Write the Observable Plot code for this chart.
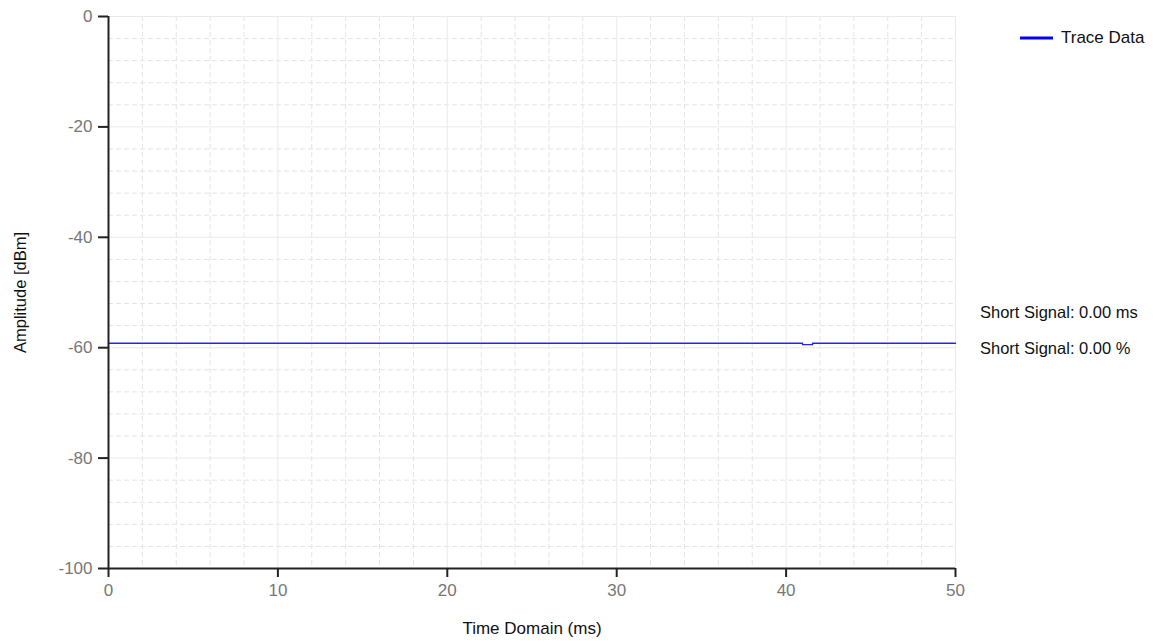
<!DOCTYPE html>
<html>
<head>
<meta charset="utf-8">
<script src="https://cdn.jsdelivr.net/npm/d3@7"></script>
<script src="https://cdn.jsdelivr.net/npm/@observablehq/plot@0.6"></script>
<style>
  html, body { margin: 0; padding: 0; background: #fff; }
  #wrap { position: relative; width: 1153px; height: 643px; font-family: "Liberation Sans", Arial, sans-serif; }
  .ann { position: absolute; font-size: 16.5px; color: #111; white-space: nowrap; }
</style>
</head>
<body>
<div id="wrap"></div>
<script>
// Data
const times      = [0, 40.97, 40.97, 41.56, 41.56, 50];
const amplitudes = [-59.2, -59.2, -59.45, -59.45, -59.2, -59.2];
const xMajor = [0, 10, 20, 30, 40, 50];
const yMajor = [0, -20, -40, -60, -80, -100];
const xMinor = [2, 4, 6, 8, 12, 14, 16, 18, 22, 24, 26, 28, 32, 34, 36, 38, 42, 44, 46, 48];
const yMinor = [-4, -8, -12, -16, -24, -28, -32, -36, -44, -48, -52, -56, -64, -68, -72, -76, -84, -88, -92, -96];
const seriesName = "Trace Data";
const annotations = ["Short Signal: 0.00 ms", "Short Signal: 0.00 %"];

const trace = times.map((t, i) => ({t, a: amplitudes[i]}));

const chart = Plot.plot({
  width: 1153,
  height: 643,
  marginLeft: 108,
  marginRight: 198,
  marginTop: 16,
  marginBottom: 75,
  style: {fontFamily: "Liberation Sans, Arial, sans-serif", fontSize: "17px", background: "#fff"},
  x: {domain: [0, 50]},
  y: {domain: [-100, 0]},
  marks: [
    Plot.ruleX(xMinor, {stroke: "#e4e4e4", strokeDasharray: "5,3"}),
    Plot.ruleY(yMinor, {stroke: "#e4e4e4", strokeDasharray: "5,3"}),
    Plot.ruleX(xMajor.filter(d => d !== 0), {stroke: "#eaeaea"}),
    Plot.ruleY(yMajor.filter(d => d !== -100), {stroke: "#eaeaea"}),
    Plot.line(trace, {x: "t", y: "a", stroke: "#2222ff", strokeWidth: 1.4}),
    Plot.ruleX([0], {stroke: "#222", strokeWidth: 2}),
    Plot.ruleY([-100], {stroke: "#222", strokeWidth: 2}),
    Plot.axisX({ticks: xMajor, tickFormat: d => String(d), tickSize: 9, tickPadding: 6, stroke: "#222", strokeWidth: 2, fill: "#777",
      label: "Time Domain (ms)", labelAnchor: "center", labelArrow: "none", labelOffset: 65}),
    Plot.axisY({ticks: yMajor, tickFormat: d => String(d), tickSize: 10, tickPadding: 6, stroke: "#222", strokeWidth: 2, fill: "#777",
      label: "Amplitude [dBm]", labelAnchor: "center", labelArrow: "none", labelOffset: 94})
  ]
});

chart.querySelectorAll('[aria-label="x-axis label"] text').forEach(t => {
  t.setAttribute("fill", "#111");
  t.style.fontSize = "17px";
});
chart.querySelectorAll('[aria-label="y-axis label"] text').forEach(t => {
  t.setAttribute("fill", "#111");
  t.style.fontSize = "16.5px";
});

const wrap = document.getElementById("wrap");
wrap.appendChild(chart);

// Legend
const leg = document.createElement("div");
leg.className = "ann";
leg.style.left = "1020px";
leg.style.top = "27px";
leg.style.fontSize = "17px";
leg.innerHTML = `<svg width="34" height="20" style="vertical-align:middle"><line x1="0" x2="33" y1="10" y2="10" stroke="#0000ff" stroke-width="3"/></svg><span style="margin-left:7px;vertical-align:middle">${seriesName}</span>`;
wrap.appendChild(leg);

annotations.forEach((txt, i) => {
  const d = document.createElement("div");
  d.className = "ann";
  d.style.left = "980px";
  d.style.top = (303 + i * 36) + "px";
  d.textContent = txt;
  wrap.appendChild(d);
});
</script>
</body>
</html>
